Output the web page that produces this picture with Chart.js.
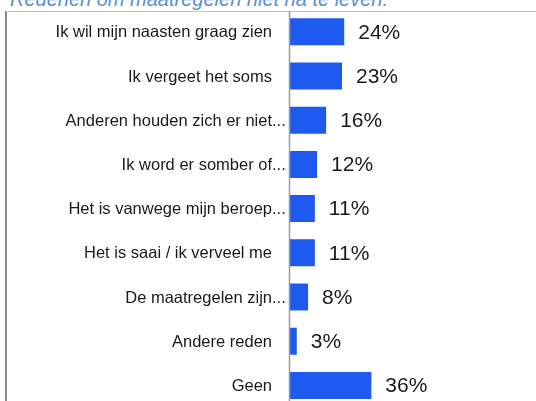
<!DOCTYPE html>
<html>
<head>
<meta charset="utf-8">
<script src="https://cdn.jsdelivr.net/npm/chart.js@4"></script>
<style>
  html, body { margin: 0; padding: 0; background: #fff; overflow: hidden; }
  body { width: 536px; height: 401px; position: relative; }
  #titel {
    position: absolute; left: 10px; top: -12px;
    font: italic 20px "Liberation Sans", Arial, sans-serif;
    color: #5a8fd2; white-space: nowrap;
  }
  #kader {
    position: absolute; left: 5px; top: 11px; right: 0; bottom: 0;
    border-top: 1px solid #c4c4c4; border-left: 2px solid #8c8c8c;
  }
  #wrap { position: absolute; left: 0; top: 0; width: 536px; height: 420px; }
</style>
</head>
<body>
<div id="titel">Redenen om maatregelen niet na te leven:</div>
<div id="kader"></div>
<div id="wrap"><canvas id="grafiek"></canvas></div>
<script>
// Gegevens
const redenen = [
  'Ik wil mijn naasten graag zien',
  'Ik vergeet het soms',
  'Anderen houden zich er niet...',
  'Ik word er somber of...',
  'Het is vanwege mijn beroep...',
  'Het is saai / ik verveel me',
  'De maatregelen zijn...',
  'Andere reden',
  'Geen'
];
const percentages = [24, 23, 16, 12, 11, 11, 8, 3, 36];

const labelFont = '16.5px "Liberation Sans", Arial, sans-serif';
const waardeFont = '21px "Liberation Sans", Arial, sans-serif';

// Labels links, as-lijn en percentages
const tekstPlugin = {
  id: 'tekstPlugin',
  afterDatasetsDraw(chart) {
    const ctx = chart.ctx;
    const yas = chart.scales.y;
    const area = chart.chartArea;
    ctx.save();

    // verticale as
    ctx.strokeStyle = '#9a9a9a';
    ctx.lineWidth = 1.5;
    ctx.beginPath();
    ctx.moveTo(area.left - 0.5, 11);
    ctx.lineTo(area.left - 0.5, chart.height);
    ctx.stroke();

    // categorie labels
    ctx.font = labelFont;
    ctx.fillStyle = '#1a1a1a';
    ctx.textBaseline = 'middle';
    ctx.textAlign = 'left';
    const rechts = area.left - 18;
    redenen.forEach((r, i) => {
      const basis = r.endsWith('...') ? r.slice(0, -3) : r;
      const w = ctx.measureText(basis).width;
      ctx.fillText(r, rechts - w, yas.getPixelForValue(i) + 1);
    });

    // waarden
    ctx.font = waardeFont;
    const meta = chart.getDatasetMeta(0);
    meta.data.forEach((bar, i) => {
      ctx.fillText(percentages[i] + '%', bar.x + 14, bar.y + 1);
    });
    ctx.restore();
  }
};

new Chart(document.getElementById('grafiek'), {
  type: 'bar',
  data: {
    labels: redenen,
    datasets: [{
      data: percentages,
      backgroundColor: '#1e5af0',
      borderWidth: 0,
      barPercentage: 0.61,
      categoryPercentage: 1
    }]
  },
  options: {
    indexAxis: 'y',
    responsive: true,
    maintainAspectRatio: false,
    animation: false,
    layout: { padding: { left: 290, right: 20, top: 9.7, bottom: 12.5 } },
    plugins: { legend: { display: false }, tooltip: { enabled: false } },
    scales: {
      x: { display: false, min: 0, max: 100 },
      y: { display: false }
    }
  },
  plugins: [tekstPlugin]
});
</script>
</body>
</html>
